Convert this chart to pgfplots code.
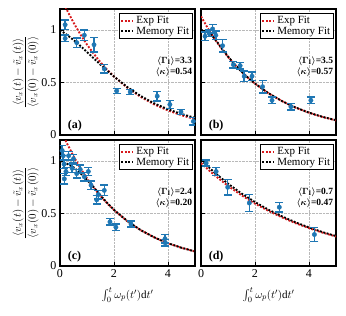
\documentclass[border=0pt]{standalone}
\usepackage{fontspec}
\setmainfont{Liberation Serif}
\usepackage{amsmath}
\usepackage{pgfplots}
\pgfplotsset{compat=1.18}
\definecolor{ptblue}{RGB}{31,119,180}
\definecolor{fitred}{RGB}{215,25,28}
\pgfplotsset{
  panel/.style={
    scale only axis, width=135pt, height=126pt,
    xmin=0, xmax=5, ymin=0, ymax=1.2,
    xtick={0,2,4}, ytick={0,0.5,1},
    tick align=inside, tick pos=left, major tick length=4pt,
    grid=major, grid style={densely dotted, gray!55, line width=0.5pt},
    axis line style={line width=1.2pt},
    every tick/.style={black, line width=0.8pt},
    tick label style={font=\fontsize{12}{12}\selectfont},
    /pgf/number format/assume math mode=true,
    legend style={at={(0.985,0.97)}, anchor=north east, draw=black, line width=1.2pt,
      font=\fontsize{11}{11}\selectfont, inner sep=1.2pt, row sep=-2.5pt,
      cells={anchor=west}},
    legend image code/.code={\draw[#1] (0pt,0pt) -- (12pt,0pt);},
    xlabel style={at={(axis description cs:0.5,-0.23)}, anchor=center, font=\fontsize{11}{11}\selectfont},
    ylabel style={at={(axis description cs:-0.255,0.5)}, anchor=center, font=\fontsize{10.5}{11}\selectfont},
  },
  expfit/.style={no marks, fitred, line width=1.9pt, dash pattern=on 1.9pt off 1.6pt},
  memfit/.style={no marks, black, line width=1.9pt, dash pattern=on 1.9pt off 1.6pt},
}
\newcommand{\ptsopts}{forget plot, only marks, mark=*, mark size=2.2pt, color=ptblue, mark options={fill=ptblue, draw=ptblue, solid},
    error bars/.cd, y dir=both, y explicit,
    error bar style={color=ptblue, line width=1.5pt, solid},
    error mark options={rotate=90, mark size=4pt, line width=1.5pt, color=ptblue, solid}}
\newcommand{\ylab}{$\displaystyle\frac{\langle v_x(t)-\tilde{v}_x(t)\rangle}{\langle v_x(0)-\tilde{v}_x(0)\rangle}$}
\newcommand{\xlab}{$\int_0^t\omega_p(t')\mathrm{d}t'$}
\newcommand{\ann}[3]{%
  \node[anchor=east, inner sep=0pt, font=\bfseries\boldmath\fontsize{9.5}{10}\selectfont] at (axis cs:4.9,0.70) {$\langle\Gamma_{\mathrm{I}}\rangle$=#1};
  \node[anchor=east, inner sep=0pt, font=\bfseries\boldmath\fontsize{9.5}{10}\selectfont] at (axis cs:4.9,0.595) {$\langle\kappa\rangle$=#2};
  \node[anchor=south west, inner sep=0pt, font=\bfseries\fontsize{12}{12}\selectfont] at (axis cs:0.28,0.035) {(#3)};
}
\begin{document}
\begin{tikzpicture}
\useasboundingbox (-60pt,-50pt) rectangle (286pt,266pt);
% ---------------- (a)
\begin{axis}[panel, at={(0pt,131pt)}, xticklabels={}, ylabel={\ylab}]
\addplot[expfit] coordinates {(0.2,1.219)(0.5,1.071)(0.75,0.960)(1.0,0.861)(1.25,0.773)(1.5,0.693)(1.75,0.621)(2.0,0.557)(2.5,0.449)(3.0,0.361)(3.5,0.290)(4.0,0.234)(4.5,0.188)(5.0,0.151)};
\addlegendentry{Exp Fit}
\addplot[memfit] coordinates {(0,1.0)(0.25,0.955)(0.5,0.905)(0.75,0.85)(1.0,0.79)(1.25,0.73)(1.5,0.67)(1.75,0.612)(2.0,0.557)(2.5,0.455)(3.0,0.37)(3.5,0.30)(4.0,0.245)(4.5,0.20)(5.0,0.163)};
\addlegendentry{Memory Fit}
\expandafter\addplot\expandafter[\ptsopts] table[x=x, y=y, y error=e] {
x y e
0.19 1.05 0.045
0.19 0.92 0.03
0.62 0.88 0.045
0.90 0.95 0.05
1.26 0.86 0.07
1.64 0.63 0.04
2.10 0.42 0.025
2.60 0.41 0.025
3.60 0.37 0.045
4.07 0.29 0.04
4.48 0.22 0.025
4.94 0.13 0.035
};
\ann{3.3}{0.54}{a}
\end{axis}
% ---------------- (b)
\begin{axis}[panel, at={(141pt,131pt)}, xticklabels={}, yticklabels={}]
\addplot[expfit] coordinates {(0,1.13)(0.25,1.018)(0.5,0.917)(0.75,0.826)(1.0,0.744)(1.25,0.670)(1.5,0.603)(1.75,0.543)(2.0,0.489)(2.5,0.397)(3.0,0.322)(3.5,0.261)(4.0,0.212)(4.5,0.172)(5.0,0.139)};
\addlegendentry{Exp Fit}
\addplot[memfit] coordinates {(0,1.0)(0.2,0.99)(0.4,0.95)(0.6,0.885)(0.8,0.815)(1.0,0.748)(1.25,0.672)(1.5,0.604)(1.75,0.544)(2.0,0.49)(2.5,0.398)(3.0,0.323)(3.5,0.262)(4.0,0.213)(4.5,0.173)(5.0,0.141)};
\addlegendentry{Memory Fit}
\expandafter\addplot\expandafter[\ptsopts] table[x=x, y=y, y error=e] {
x y e
0.15 0.94 0.04
0.30 0.97 0.03
0.43 1.01 0.04
0.55 0.95 0.04
0.80 0.85 0.06
1.20 0.67 0.03
1.45 0.66 0.03
1.60 0.56 0.05
1.89 0.56 0.04
2.28 0.46 0.06
2.63 0.33 0.03
3.33 0.27 0.03
4.07 0.33 0.03
};
\ann{3.5}{0.57}{b}
\end{axis}
% ---------------- (c)
\begin{axis}[panel, at={(0pt,0pt)}, ylabel={\ylab}, xlabel={\xlab}]
\addplot[expfit] coordinates {(0.2,1.197)(0.5,1.046)(0.75,0.934)(1.0,0.835)(1.25,0.746)(1.5,0.666)(1.75,0.596)(2.0,0.532)(2.5,0.425)(3.0,0.339)(3.5,0.271)(4.0,0.216)(4.5,0.173)(5.0,0.138)};
\addlegendentry{Exp Fit}
\addplot[memfit] coordinates {(0,1.0)(0.25,0.975)(0.5,0.94)(0.75,0.885)(1.0,0.82)(1.25,0.75)(1.5,0.672)(1.75,0.600)(2.0,0.535)(2.5,0.427)(3.0,0.340)(3.5,0.272)(4.0,0.217)(4.5,0.174)(5.0,0.139)};
\addlegendentry{Memory Fit}
\expandafter\addplot\expandafter[\ptsopts] table[x=x, y=y, y error=e] {
x y e
0.08 1.10 0.05
0.12 1.05 0.04
0.15 0.97 0.04
0.16 0.83 0.05
0.22 0.90 0.04
0.32 1.05 0.04
0.45 0.93 0.04
0.50 1.02 0.04
0.62 0.88 0.04
0.75 0.92 0.04
0.90 0.85 0.04
1.05 0.90 0.04
1.15 0.77 0.04
1.36 0.63 0.04
1.42 0.68 0.04
1.64 0.72 0.05
1.85 0.42 0.03
2.07 0.37 0.03
2.63 0.40 0.03
3.89 0.26 0.04
3.90 0.22 0.03
};
\ann{2.4}{0.20}{c}
\end{axis}
% ---------------- (d)
\begin{axis}[panel, at={(141pt,0pt)}, yticklabels={}, xlabel={\xlab}]
\addplot[expfit] coordinates {(0,0.98)(0.5,0.865)(1.0,0.763)(1.5,0.674)(2.0,0.594)(2.5,0.525)(3.0,0.463)(3.5,0.408)(4.0,0.361)(4.5,0.318)(5.0,0.281)};
\addlegendentry{Exp Fit}
\addplot[memfit] coordinates {(0,1.01)(0.5,0.890)(1.0,0.784)(1.5,0.691)(2.0,0.609)(2.5,0.536)(3.0,0.473)(3.5,0.416)(4.0,0.367)(4.5,0.323)(5.0,0.285)};
\addlegendentry{Memory Fit}
\expandafter\addplot\expandafter[\ptsopts] table[x=x, y=y, y error=e] {
x y e
0.19 0.98 0.03
0.56 0.90 0.04
0.99 0.75 0.075
1.79 0.60 0.08
2.90 0.56 0.045
4.20 0.30 0.065
};
\ann{0.7}{0.47}{d}
\end{axis}
\end{tikzpicture}
\end{document}
